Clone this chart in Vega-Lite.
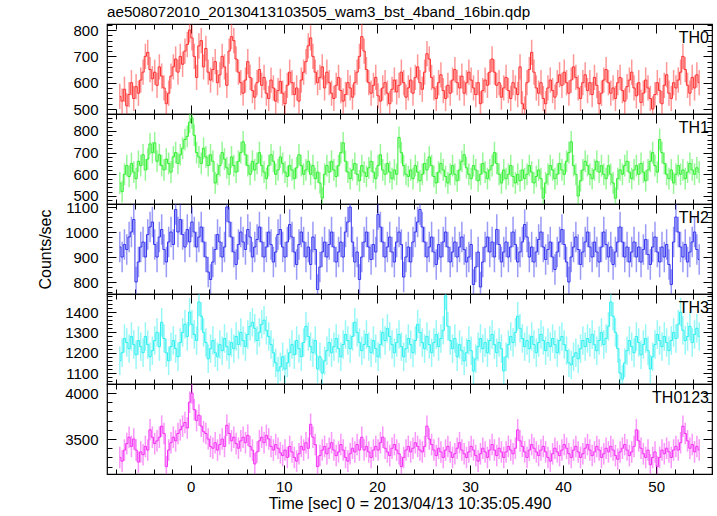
{
"$schema": "https://vega.github.io/schema/vega-lite/v6.json",
"autosize": {"type": "pad"},
"padding": {"left": 37, "top": 3, "right": 5, "bottom": 5},
"background": "white",
"bounds": "flush",
"spacing": 0,
"config": {
  "view": {"stroke": "#000", "strokeWidth": 1.2},
  "font": "Liberation Sans",
  "axis": {"labelFont": "Liberation Sans", "labelFontSize": 15, "labelColor": "#000", "titleFont": "Liberation Sans", "titleFontSize": 16, "titleFontWeight": "normal", "titleColor": "#000", "tickColor": "#000", "tickWidth": 1, "grid": false, "domain": false, "labelOverlap": false, "labelFlush": false}
},
"datasets": {
"errs": [{"band":"a","err":48},{"band":"b","err":50},{"band":"c","err":61},{"band":"d","err":70},{"band":"e","err":117}],
"lc": [
{"t":-7.625,"a":548,"b":560,"c":940,"d":1160,"e":3300},
{"t":-7.375,"a":530,"b":520,"c":900,"d":1200,"e":3260},
{"t":-7.125,"a":575,"b":600,"c":950,"d":1270,"e":3380},
{"t":-6.875,"a":512,"b":640,"c":930,"d":1250,"e":3450},
{"t":-6.625,"a":555,"b":590,"c":980,"d":1220,"e":3520},
{"t":-6.375,"a":600,"b":650,"c":1000,"d":1280,"e":3420},
{"t":-6.125,"a":540,"b":610,"c":1050,"d":1240,"e":3500},
{"t":-5.875,"a":585,"b":580,"c":800,"d":1190,"e":3380},
{"t":-5.625,"a":560,"b":660,"c":880,"d":1260,"e":3250},
{"t":-5.375,"a":610,"b":640,"c":940,"d":1230,"e":3360},
{"t":-5.125,"a":640,"b":690,"c":960,"d":1200,"e":3330},
{"t":-4.875,"a":700,"b":620,"c":900,"d":1280,"e":3420},
{"t":-4.625,"a":715,"b":670,"c":990,"d":1240,"e":3380},
{"t":-4.375,"a":650,"b":740,"c":1020,"d":1180,"e":3600},
{"t":-4.125,"a":615,"b":700,"c":1040,"d":1210,"e":3520},
{"t":-3.875,"a":640,"b":745,"c":950,"d":1260,"e":3450},
{"t":-3.625,"a":590,"b":660,"c":900,"d":1300,"e":3480},
{"t":-3.375,"a":660,"b":690,"c":980,"d":1230,"e":3520},
{"t":-3.125,"a":625,"b":640,"c":1010,"d":1350,"e":3640},
{"t":-2.875,"a":580,"b":620,"c":930,"d":1270,"e":3560},
{"t":-2.625,"a":520,"b":670,"c":880,"d":1200,"e":3200},
{"t":-2.375,"a":560,"b":650,"c":960,"d":1160,"e":3380},
{"t":-2.125,"a":625,"b":610,"c":1000,"d":1230,"e":3460},
{"t":-1.875,"a":660,"b":680,"c":950,"d":1260,"e":3520},
{"t":-1.625,"a":690,"b":700,"c":1090,"d":1220,"e":3480},
{"t":-1.375,"a":640,"b":650,"c":1000,"d":1180,"e":3560},
{"t":-1.125,"a":700,"b":690,"c":1050,"d":1250,"e":3600},
{"t":-0.875,"a":670,"b":720,"c":990,"d":1300,"e":3640},
{"t":-0.625,"a":720,"b":760,"c":940,"d":1340,"e":3680},
{"t":-0.375,"a":745,"b":775,"c":1010,"d":1280,"e":3620},
{"t":-0.125,"a":800,"b":840,"c":960,"d":1400,"e":3900},
{"t":0.125,"a":770,"b":860,"c":1040,"d":1340,"e":4000},
{"t":0.375,"a":700,"b":780,"c":1000,"d":1290,"e":3820},
{"t":0.625,"a":620,"b":700,"c":940,"d":1260,"e":3700},
{"t":0.875,"a":740,"b":680,"c":980,"d":1450,"e":3760},
{"t":1.125,"a":760,"b":650,"c":1020,"d":1380,"e":3640},
{"t":1.375,"a":660,"b":720,"c":960,"d":1300,"e":3580},
{"t":1.625,"a":730,"b":680,"c":900,"d":1250,"e":3560},
{"t":1.875,"a":640,"b":640,"c":840,"d":1170,"e":3500},
{"t":2.125,"a":610,"b":690,"c":810,"d":1220,"e":3420},
{"t":2.375,"a":650,"b":660,"c":880,"d":1260,"e":3400},
{"t":2.625,"a":680,"b":560,"c":930,"d":1200,"e":3460},
{"t":2.875,"a":600,"b":600,"c":990,"d":1180,"e":3380},
{"t":3.125,"a":630,"b":640,"c":960,"d":1240,"e":3440},
{"t":3.375,"a":700,"b":700,"c":900,"d":1210,"e":3500},
{"t":3.625,"a":660,"b":670,"c":940,"d":1270,"e":3420},
{"t":3.875,"a":590,"b":630,"c":1100,"d":1230,"e":3650},
{"t":4.125,"a":720,"b":600,"c":1040,"d":1190,"e":3560},
{"t":4.375,"a":775,"b":680,"c":980,"d":1250,"e":3480},
{"t":4.625,"a":760,"b":640,"c":920,"d":1220,"e":3520},
{"t":4.875,"a":690,"b":610,"c":870,"d":1280,"e":3450},
{"t":5.125,"a":640,"b":660,"c":950,"d":1240,"e":3400},
{"t":5.375,"a":600,"b":700,"c":1000,"d":1300,"e":3480},
{"t":5.625,"a":560,"b":750,"c":960,"d":1260,"e":3520},
{"t":5.875,"a":610,"b":690,"c":930,"d":1230,"e":3460},
{"t":6.125,"a":680,"b":640,"c":1010,"d":1290,"e":3540},
{"t":6.375,"a":620,"b":600,"c":980,"d":1330,"e":3420},
{"t":6.625,"a":570,"b":660,"c":900,"d":1350,"e":3380},
{"t":6.875,"a":545,"b":620,"c":940,"d":1320,"e":3230},
{"t":7.125,"a":600,"b":650,"c":970,"d":1260,"e":3360},
{"t":7.375,"a":650,"b":700,"c":1020,"d":1300,"e":3480},
{"t":7.625,"a":590,"b":640,"c":960,"d":1340,"e":3520},
{"t":7.875,"a":620,"b":610,"c":900,"d":1360,"e":3460},
{"t":8.125,"a":560,"b":580,"c":940,"d":1310,"e":3540},
{"t":8.375,"a":540,"b":640,"c":1000,"d":1280,"e":3500},
{"t":8.625,"a":610,"b":690,"c":950,"d":1240,"e":3420},
{"t":8.875,"a":580,"b":660,"c":880,"d":1200,"e":3380},
{"t":9.125,"a":530,"b":600,"c":920,"d":1150,"e":3440},
{"t":9.375,"a":570,"b":620,"c":990,"d":1110,"e":3400},
{"t":9.625,"a":605,"b":680,"c":1010,"d":1130,"e":3350},
{"t":9.875,"a":560,"b":650,"c":940,"d":1180,"e":3320},
{"t":10.125,"a":520,"b":610,"c":900,"d":1120,"e":3380},
{"t":10.375,"a":590,"b":590,"c":960,"d":1150,"e":3300},
{"t":10.625,"a":640,"b":640,"c":1030,"d":1200,"e":3420},
{"t":10.875,"a":600,"b":620,"c":980,"d":1240,"e":3360},
{"t":11.125,"a":555,"b":580,"c":920,"d":1190,"e":3300},
{"t":11.375,"a":580,"b":630,"c":870,"d":1260,"e":3260},
{"t":11.625,"a":530,"b":690,"c":950,"d":1220,"e":3340},
{"t":11.875,"a":610,"b":640,"c":1000,"d":1180,"e":3420},
{"t":12.125,"a":640,"b":600,"c":960,"d":1250,"e":3380},
{"t":12.375,"a":680,"b":620,"c":900,"d":1330,"e":3460},
{"t":12.625,"a":740,"b":660,"c":940,"d":1280,"e":3400},
{"t":12.875,"a":770,"b":600,"c":870,"d":1230,"e":3660},
{"t":13.125,"a":700,"b":640,"c":980,"d":1200,"e":3520},
{"t":13.375,"a":640,"b":580,"c":930,"d":1260,"e":3440},
{"t":13.625,"a":600,"b":610,"c":770,"d":1120,"e":3200},
{"t":13.875,"a":620,"b":560,"c":860,"d":1180,"e":3320},
{"t":14.125,"a":660,"b":490,"c":920,"d":1100,"e":3380},
{"t":14.375,"a":580,"b":600,"c":960,"d":1160,"e":3420},
{"t":14.625,"a":640,"b":640,"c":900,"d":1210,"e":3340},
{"t":14.875,"a":600,"b":610,"c":950,"d":1250,"e":3400},
{"t":15.125,"a":560,"b":660,"c":1000,"d":1200,"e":3460},
{"t":15.375,"a":540,"b":620,"c":940,"d":1230,"e":3380},
{"t":15.625,"a":590,"b":590,"c":880,"d":1270,"e":3320},
{"t":15.875,"a":620,"b":640,"c":920,"d":1220,"e":3360},
{"t":16.125,"a":570,"b":700,"c":960,"d":1180,"e":3440},
{"t":16.375,"a":530,"b":745,"c":900,"d":1240,"e":3380},
{"t":16.625,"a":555,"b":660,"c":1000,"d":1290,"e":3300},
{"t":16.875,"a":600,"b":610,"c":1040,"d":1260,"e":3260},
{"t":17.125,"a":580,"b":580,"c":1100,"d":1220,"e":3340},
{"t":17.375,"a":545,"b":620,"c":960,"d":1280,"e":3400},
{"t":17.625,"a":600,"b":650,"c":880,"d":1350,"e":3360},
{"t":17.875,"a":640,"b":600,"c":920,"d":1300,"e":3440},
{"t":18.125,"a":700,"b":570,"c":810,"d":1250,"e":3380},
{"t":18.375,"a":775,"b":640,"c":900,"d":1210,"e":3520},
{"t":18.625,"a":720,"b":610,"c":960,"d":1240,"e":3380},
{"t":18.875,"a":650,"b":590,"c":1000,"d":1290,"e":3420},
{"t":19.125,"a":600,"b":630,"c":940,"d":1230,"e":3360},
{"t":19.375,"a":560,"b":660,"c":890,"d":1200,"e":3300},
{"t":19.625,"a":590,"b":610,"c":950,"d":1260,"e":3380},
{"t":19.875,"a":620,"b":580,"c":920,"d":1220,"e":3420},
{"t":20.125,"a":550,"b":640,"c":1070,"d":1180,"e":3380},
{"t":20.375,"a":530,"b":690,"c":1020,"d":1240,"e":3460},
{"t":20.625,"a":580,"b":620,"c":960,"d":1300,"e":3520},
{"t":20.875,"a":600,"b":600,"c":900,"d":1260,"e":3400},
{"t":21.125,"a":560,"b":650,"c":940,"d":1320,"e":3360},
{"t":21.375,"a":520,"b":610,"c":980,"d":1280,"e":3320},
{"t":21.625,"a":575,"b":580,"c":920,"d":1240,"e":3400},
{"t":21.875,"a":610,"b":620,"c":880,"d":1200,"e":3440},
{"t":22.125,"a":565,"b":600,"c":960,"d":1250,"e":3380},
{"t":22.375,"a":590,"b":770,"c":1000,"d":1290,"e":3340},
{"t":22.625,"a":640,"b":700,"c":950,"d":1230,"e":3200},
{"t":22.875,"a":600,"b":640,"c":820,"d":1180,"e":3300},
{"t":23.125,"a":545,"b":600,"c":900,"d":1220,"e":3380},
{"t":23.375,"a":580,"b":590,"c":940,"d":1270,"e":3420},
{"t":23.625,"a":610,"b":620,"c":880,"d":1240,"e":3360},
{"t":23.875,"a":560,"b":580,"c":960,"d":1200,"e":3400},
{"t":24.125,"a":620,"b":640,"c":1000,"d":1260,"e":3460},
{"t":24.375,"a":660,"b":610,"c":1040,"d":1340,"e":3420},
{"t":24.625,"a":600,"b":570,"c":1090,"d":1300,"e":3380},
{"t":24.875,"a":575,"b":600,"c":1020,"d":1250,"e":3360},
{"t":25.125,"a":640,"b":650,"c":960,"d":1220,"e":3420},
{"t":25.375,"a":710,"b":620,"c":900,"d":1280,"e":3640},
{"t":25.625,"a":690,"b":680,"c":940,"d":1240,"e":3500},
{"t":25.875,"a":620,"b":640,"c":980,"d":1200,"e":3440},
{"t":26.125,"a":580,"b":590,"c":920,"d":1250,"e":3380},
{"t":26.375,"a":540,"b":560,"c":870,"d":1290,"e":3320},
{"t":26.625,"a":600,"b":610,"c":950,"d":1230,"e":3400},
{"t":26.875,"a":630,"b":650,"c":900,"d":1270,"e":3360},
{"t":27.125,"a":570,"b":620,"c":960,"d":1310,"e":3300},
{"t":27.375,"a":540,"b":590,"c":1000,"d":1480,"e":3380},
{"t":27.625,"a":590,"b":560,"c":940,"d":1330,"e":3420},
{"t":27.875,"a":560,"b":600,"c":880,"d":1260,"e":3360},
{"t":28.125,"a":610,"b":640,"c":920,"d":1220,"e":3300},
{"t":28.375,"a":650,"b":600,"c":960,"d":1270,"e":3340},
{"t":28.625,"a":600,"b":570,"c":900,"d":1180,"e":3400},
{"t":28.875,"a":580,"b":620,"c":940,"d":1240,"e":3460},
{"t":29.125,"a":625,"b":660,"c":980,"d":1210,"e":3380},
{"t":29.375,"a":560,"b":690,"c":930,"d":1160,"e":3340},
{"t":29.625,"a":600,"b":630,"c":880,"d":1200,"e":3300},
{"t":29.875,"a":640,"b":600,"c":900,"d":1260,"e":3360},
{"t":30.125,"a":610,"b":580,"c":950,"d":1210,"e":3420},
{"t":30.375,"a":580,"b":640,"c":790,"d":1110,"e":3380},
{"t":30.625,"a":555,"b":620,"c":860,"d":1170,"e":3320},
{"t":30.875,"a":600,"b":570,"c":920,"d":1230,"e":3260},
{"t":31.125,"a":520,"b":600,"c":780,"d":1270,"e":3340},
{"t":31.375,"a":570,"b":650,"c":880,"d":1220,"e":3400},
{"t":31.625,"a":610,"b":610,"c":940,"d":1250,"e":3360},
{"t":31.875,"a":590,"b":580,"c":980,"d":1200,"e":3300},
{"t":32.125,"a":640,"b":620,"c":920,"d":1260,"e":3380},
{"t":32.375,"a":690,"b":640,"c":960,"d":1290,"e":3440},
{"t":32.625,"a":640,"b":700,"c":900,"d":1240,"e":3380},
{"t":32.875,"a":590,"b":650,"c":1010,"d":1200,"e":3320},
{"t":33.125,"a":600,"b":600,"c":950,"d":1250,"e":3400},
{"t":33.375,"a":545,"b":560,"c":880,"d":1220,"e":3360},
{"t":33.625,"a":580,"b":620,"c":920,"d":1110,"e":3300},
{"t":33.875,"a":620,"b":580,"c":960,"d":1180,"e":3360},
{"t":34.125,"a":570,"b":600,"c":900,"d":1240,"e":3420},
{"t":34.375,"a":540,"b":640,"c":940,"d":1280,"e":3380},
{"t":34.625,"a":600,"b":590,"c":1000,"d":1250,"e":3340},
{"t":34.875,"a":580,"b":560,"c":950,"d":1300,"e":3400},
{"t":35.125,"a":555,"b":600,"c":880,"d":1380,"e":3600},
{"t":35.375,"a":660,"b":570,"c":920,"d":1320,"e":3480},
{"t":35.625,"a":520,"b":620,"c":960,"d":1270,"e":3420},
{"t":35.875,"a":500,"b":580,"c":1030,"d":1230,"e":3360},
{"t":36.125,"a":600,"b":600,"c":980,"d":1260,"e":3300},
{"t":36.375,"a":650,"b":640,"c":900,"d":1220,"e":3380},
{"t":36.625,"a":715,"b":610,"c":940,"d":1280,"e":3440},
{"t":36.875,"a":640,"b":560,"c":880,"d":1240,"e":3400},
{"t":37.125,"a":580,"b":590,"c":920,"d":1200,"e":3360},
{"t":37.375,"a":560,"b":620,"c":970,"d":1250,"e":3320},
{"t":37.625,"a":600,"b":580,"c":1000,"d":1290,"e":3380},
{"t":37.875,"a":540,"b":490,"c":940,"d":1260,"e":3420},
{"t":38.125,"a":520,"b":560,"c":890,"d":1210,"e":3360},
{"t":38.375,"a":580,"b":600,"c":930,"d":1250,"e":3300},
{"t":38.625,"a":610,"b":640,"c":960,"d":1230,"e":3260},
{"t":38.875,"a":570,"b":620,"c":900,"d":1270,"e":3340},
{"t":39.125,"a":545,"b":580,"c":850,"d":1240,"e":3400},
{"t":39.375,"a":600,"b":600,"c":920,"d":1200,"e":3360},
{"t":39.625,"a":630,"b":650,"c":960,"d":1260,"e":3320},
{"t":39.875,"a":590,"b":620,"c":1010,"d":1280,"e":3380},
{"t":40.125,"a":640,"b":600,"c":950,"d":1240,"e":3440},
{"t":40.375,"a":600,"b":660,"c":880,"d":1210,"e":3400},
{"t":40.625,"a":560,"b":700,"c":800,"d":1150,"e":3340},
{"t":40.875,"a":610,"b":750,"c":900,"d":1140,"e":3300},
{"t":41.125,"a":660,"b":640,"c":940,"d":1180,"e":3380},
{"t":41.375,"a":620,"b":600,"c":980,"d":1200,"e":3420},
{"t":41.625,"a":580,"b":500,"c":930,"d":1170,"e":3360},
{"t":41.875,"a":540,"b":570,"c":870,"d":1220,"e":3300},
{"t":42.125,"a":600,"b":620,"c":920,"d":1260,"e":3340},
{"t":42.375,"a":630,"b":660,"c":960,"d":1230,"e":3400},
{"t":42.625,"a":570,"b":640,"c":1000,"d":1270,"e":3440},
{"t":42.875,"a":600,"b":600,"c":940,"d":1250,"e":3380},
{"t":43.125,"a":555,"b":580,"c":900,"d":1290,"e":3320},
{"t":43.375,"a":620,"b":620,"c":960,"d":1240,"e":3360},
{"t":43.625,"a":590,"b":660,"c":920,"d":1210,"e":3420},
{"t":43.875,"a":520,"b":610,"c":880,"d":1260,"e":3380},
{"t":44.125,"a":560,"b":640,"c":940,"d":1300,"e":3300},
{"t":44.375,"a":610,"b":600,"c":1000,"d":1240,"e":3340},
{"t":44.625,"a":650,"b":580,"c":950,"d":1270,"e":3400},
{"t":44.875,"a":600,"b":640,"c":900,"d":1330,"e":3360},
{"t":45.125,"a":560,"b":600,"c":940,"d":1450,"e":3420},
{"t":45.375,"a":580,"b":560,"c":870,"d":1380,"e":3380},
{"t":45.625,"a":540,"b":490,"c":920,"d":1300,"e":3320},
{"t":45.875,"a":600,"b":580,"c":960,"d":1220,"e":3280},
{"t":46.125,"a":620,"b":620,"c":1020,"d":1100,"e":3360},
{"t":46.375,"a":570,"b":600,"c":960,"d":1070,"e":3400},
{"t":46.625,"a":530,"b":640,"c":900,"d":1150,"e":3440},
{"t":46.875,"a":585,"b":660,"c":940,"d":1210,"e":3380},
{"t":47.125,"a":610,"b":610,"c":880,"d":1260,"e":3320},
{"t":47.375,"a":640,"b":580,"c":920,"d":1230,"e":3360},
{"t":47.625,"a":580,"b":620,"c":960,"d":1200,"e":3420},
{"t":47.875,"a":550,"b":640,"c":900,"d":1280,"e":3600},
{"t":48.125,"a":600,"b":600,"c":940,"d":1250,"e":3480},
{"t":48.375,"a":525,"b":650,"c":880,"d":1190,"e":3400},
{"t":48.625,"a":560,"b":610,"c":930,"d":1240,"e":3340},
{"t":48.875,"a":610,"b":570,"c":970,"d":1270,"e":3300},
{"t":49.125,"a":580,"b":620,"c":910,"d":1210,"e":3380},
{"t":49.375,"a":540,"b":660,"c":870,"d":1120,"e":3220},
{"t":49.625,"a":500,"b":700,"c":940,"d":1180,"e":3300},
{"t":49.875,"a":555,"b":640,"c":980,"d":1240,"e":3360},
{"t":50.125,"a":600,"b":610,"c":920,"d":1290,"e":3200},
{"t":50.375,"a":570,"b":760,"c":880,"d":1260,"e":3300},
{"t":50.625,"a":520,"b":700,"c":940,"d":1230,"e":3380},
{"t":50.875,"a":590,"b":650,"c":900,"d":1280,"e":3340},
{"t":51.125,"a":630,"b":600,"c":950,"d":1250,"e":3400},
{"t":51.375,"a":560,"b":580,"c":870,"d":1210,"e":3360},
{"t":51.625,"a":540,"b":620,"c":790,"d":1260,"e":3300},
{"t":51.875,"a":600,"b":560,"c":960,"d":1300,"e":3380},
{"t":52.125,"a":580,"b":600,"c":1060,"d":1270,"e":3420},
{"t":52.375,"a":610,"b":640,"c":1000,"d":1340,"e":3380},
{"t":52.625,"a":640,"b":600,"c":940,"d":1400,"e":3460},
{"t":52.875,"a":700,"b":620,"c":900,"d":1310,"e":3640},
{"t":53.125,"a":650,"b":580,"c":950,"d":1260,"e":3560},
{"t":53.375,"a":590,"b":610,"c":880,"d":1280,"e":3480},
{"t":53.625,"a":560,"b":650,"c":920,"d":1330,"e":3400},
{"t":53.875,"a":620,"b":620,"c":960,"d":1250,"e":3440},
{"t":54.125,"a":580,"b":600,"c":1000,"d":1290,"e":3360},
{"t":54.375,"a":630,"b":630,"c":930,"d":1320,"e":3420},
{"t":54.625,"a":600,"b":610,"c":890,"d":1280,"e":3380}
]
},
"vconcat": [
{
 "width": 605, "height": 90,
 "title": {"text": "ae508072010_20130413103505_wam3_bst_4band_16bin.qdp", "anchor": "start", "frame": "group", "fontSize": 15.2, "fontWeight": "normal", "font": "Liberation Sans", "color": "#000", "offset": -2},
 "layer": [
  {"data": {"name": "lc"},
   "transform": [{"fold": ["a"], "as": ["band", "v"]}, {"lookup": "band", "from": {"data": {"name": "errs"}, "key": "band", "fields": ["err"]}}],
   "mark": {"type": "errorbar", "color": "#ff3030", "opacity": 0.5, "thickness": 1.5, "clip": true},
   "encoding": {
     "x": {"field": "t", "type": "quantitative", "scale": {"domain": [-9, 56], "nice": false, "zero": false}, "axis": {"orient": "bottom", "values": [-8,-6,-4,-2,0,2,4,6,8,10,12,14,16,18,20,22,24,26,28,30,32,34,36,38,40,42,44,46,48,50,52,54,56], "labels": false, "title": null, "tickSize": {"condition": {"test": "datum.value % 10 === 0", "value": -9}, "value": -5}}},
     "y": {"field": "v", "type": "quantitative", "scale": {"domain": [481, 823], "nice": false, "zero": false}, "axis": {"orient": "left", "values": [500,520,540,560,580,600,620,640,660,680,700,720,740,760,780,800,820], "format": "d", "labelExpr": "datum.value % 100 === 0 ? datum.label : ''", "labelPadding": 18, "title": null, "tickSize": {"condition": {"test": "datum.value % 100 === 0", "value": -9}, "value": -5}}},
     "yError": {"field": "err"}}},
  {"data": {"name": "lc"},
   "mark": {"type": "line", "interpolate": "step", "color": "#ff3030", "strokeWidth": 1, "clip": true},
   "encoding": {
     "x": {"field": "t", "type": "quantitative", "scale": {"domain": [-9, 56], "nice": false, "zero": false}, "axis": {"orient": "top", "values": [-8,-6,-4,-2,0,2,4,6,8,10,12,14,16,18,20,22,24,26,28,30,32,34,36,38,40,42,44,46,48,50,52,54,56], "labels": false, "title": null, "tickSize": {"condition": {"test": "datum.value % 10 === 0", "value": -9}, "value": -5}}},
     "y": {"field": "a", "type": "quantitative", "scale": {"domain": [481, 823], "nice": false, "zero": false}, "axis": {"orient": "right", "values": [500,520,540,560,580,600,620,640,660,680,700,720,740,760,780,800,820], "labels": false, "title": null, "tickSize": {"condition": {"test": "datum.value % 100 === 0", "value": -9}, "value": -5}}}}},
  {"data": {"values": [{"lab": "TH0"}]},
   "mark": {"type": "text", "align": "right", "baseline": "top", "dx": -3, "dy": 6, "fontSize": 16, "font": "Liberation Sans", "color": "#000"},
   "encoding": {"x": {"datum": 56, "type": "quantitative", "scale": {"domain": [-9, 56], "nice": false, "zero": false}, "axis": null}, "y": {"datum": 823, "type": "quantitative", "scale": {"domain": [481, 823], "nice": false, "zero": false}, "axis": null}, "text": {"field": "lab"}}}
 ],
 "resolve": {"axis": {"x": "independent", "y": "independent"}}
},
{
 "width": 605, "height": 90,
 "layer": [
  {"data": {"name": "lc"},
   "transform": [{"fold": ["b"], "as": ["band", "v"]}, {"lookup": "band", "from": {"data": {"name": "errs"}, "key": "band", "fields": ["err"]}}],
   "mark": {"type": "errorbar", "color": "#30f030", "opacity": 0.5, "thickness": 1.5, "clip": true},
   "encoding": {
     "x": {"field": "t", "type": "quantitative", "scale": {"domain": [-9, 56], "nice": false, "zero": false}, "axis": {"orient": "bottom", "values": [-8,-6,-4,-2,0,2,4,6,8,10,12,14,16,18,20,22,24,26,28,30,32,34,36,38,40,42,44,46,48,50,52,54,56], "labels": false, "title": null, "tickSize": {"condition": {"test": "datum.value % 10 === 0", "value": -9}, "value": -5}}},
     "y": {"field": "v", "type": "quantitative", "scale": {"domain": [463, 878], "nice": false, "zero": false}, "axis": {"orient": "left", "values": [480,500,520,540,560,580,600,620,640,660,680,700,720,740,760,780,800,820,840,860], "format": "d", "labelExpr": "datum.value % 100 === 0 ? datum.label : ''", "labelPadding": 18, "title": null, "tickSize": {"condition": {"test": "datum.value % 100 === 0", "value": -9}, "value": -5}}},
     "yError": {"field": "err"}}},
  {"data": {"name": "lc"},
   "mark": {"type": "line", "interpolate": "step", "color": "#30f030", "strokeWidth": 1, "clip": true},
   "encoding": {
     "x": {"field": "t", "type": "quantitative", "scale": {"domain": [-9, 56], "nice": false, "zero": false}, "axis": {"orient": "top", "values": [-8,-6,-4,-2,0,2,4,6,8,10,12,14,16,18,20,22,24,26,28,30,32,34,36,38,40,42,44,46,48,50,52,54,56], "labels": false, "title": null, "tickSize": {"condition": {"test": "datum.value % 10 === 0", "value": -9}, "value": -5}}},
     "y": {"field": "b", "type": "quantitative", "scale": {"domain": [463, 878], "nice": false, "zero": false}, "axis": {"orient": "right", "values": [480,500,520,540,560,580,600,620,640,660,680,700,720,740,760,780,800,820,840,860], "labels": false, "title": null, "tickSize": {"condition": {"test": "datum.value % 100 === 0", "value": -9}, "value": -5}}}}},
  {"data": {"values": [{"lab": "TH1"}]},
   "mark": {"type": "text", "align": "right", "baseline": "top", "dx": -3, "dy": 6, "fontSize": 16, "font": "Liberation Sans", "color": "#000"},
   "encoding": {"x": {"datum": 56, "type": "quantitative", "scale": {"domain": [-9, 56], "nice": false, "zero": false}, "axis": null}, "y": {"datum": 878, "type": "quantitative", "scale": {"domain": [463, 878], "nice": false, "zero": false}, "axis": null}, "text": {"field": "lab"}}}
 ],
 "resolve": {"axis": {"x": "independent", "y": "independent"}}
},
{
 "width": 605, "height": 90,
 "layer": [
  {"data": {"name": "lc"},
   "transform": [{"fold": ["c"], "as": ["band", "v"]}, {"lookup": "band", "from": {"data": {"name": "errs"}, "key": "band", "fields": ["err"]}}],
   "mark": {"type": "errorbar", "color": "#3535f0", "opacity": 0.5, "thickness": 1.5, "clip": true},
   "encoding": {
     "x": {"field": "t", "type": "quantitative", "scale": {"domain": [-9, 56], "nice": false, "zero": false}, "axis": {"orient": "bottom", "values": [-8,-6,-4,-2,0,2,4,6,8,10,12,14,16,18,20,22,24,26,28,30,32,34,36,38,40,42,44,46,48,50,52,54,56], "labels": false, "title": null, "tickSize": {"condition": {"test": "datum.value % 10 === 0", "value": -9}, "value": -5}}},
     "y": {"field": "v", "type": "quantitative", "scale": {"domain": [752, 1112], "nice": false, "zero": false}, "axis": {"orient": "left", "values": [760,780,800,820,840,860,880,900,920,940,960,980,1000,1020,1040,1060,1080,1100], "format": "d", "labelExpr": "datum.value % 100 === 0 ? datum.label : ''", "labelPadding": 18, "title": "Counts/sec", "titlePadding": 11, "tickSize": {"condition": {"test": "datum.value % 100 === 0", "value": -9}, "value": -5}}},
     "yError": {"field": "err"}}},
  {"data": {"name": "lc"},
   "mark": {"type": "line", "interpolate": "step", "color": "#3535f0", "strokeWidth": 1, "clip": true},
   "encoding": {
     "x": {"field": "t", "type": "quantitative", "scale": {"domain": [-9, 56], "nice": false, "zero": false}, "axis": {"orient": "top", "values": [-8,-6,-4,-2,0,2,4,6,8,10,12,14,16,18,20,22,24,26,28,30,32,34,36,38,40,42,44,46,48,50,52,54,56], "labels": false, "title": null, "tickSize": {"condition": {"test": "datum.value % 10 === 0", "value": -9}, "value": -5}}},
     "y": {"field": "c", "type": "quantitative", "scale": {"domain": [752, 1112], "nice": false, "zero": false}, "axis": {"orient": "right", "values": [760,780,800,820,840,860,880,900,920,940,960,980,1000,1020,1040,1060,1080,1100], "labels": false, "title": null, "tickSize": {"condition": {"test": "datum.value % 100 === 0", "value": -9}, "value": -5}}}}},
  {"data": {"values": [{"lab": "TH2"}]},
   "mark": {"type": "text", "align": "right", "baseline": "top", "dx": -3, "dy": 6, "fontSize": 16, "font": "Liberation Sans", "color": "#000"},
   "encoding": {"x": {"datum": 56, "type": "quantitative", "scale": {"domain": [-9, 56], "nice": false, "zero": false}, "axis": null}, "y": {"datum": 1112, "type": "quantitative", "scale": {"domain": [752, 1112], "nice": false, "zero": false}, "axis": null}, "text": {"field": "lab"}}}
 ],
 "resolve": {"axis": {"x": "independent", "y": "independent"}}
},
{
 "width": 605, "height": 90,
 "layer": [
  {"data": {"name": "lc"},
   "transform": [{"fold": ["d"], "as": ["band", "v"]}, {"lookup": "band", "from": {"data": {"name": "errs"}, "key": "band", "fields": ["err"]}}],
   "mark": {"type": "errorbar", "color": "#30f0f0", "opacity": 0.5, "thickness": 1.5, "clip": true},
   "encoding": {
     "x": {"field": "t", "type": "quantitative", "scale": {"domain": [-9, 56], "nice": false, "zero": false}, "axis": {"orient": "bottom", "values": [-8,-6,-4,-2,0,2,4,6,8,10,12,14,16,18,20,22,24,26,28,30,32,34,36,38,40,42,44,46,48,50,52,54,56], "labels": false, "title": null, "tickSize": {"condition": {"test": "datum.value % 10 === 0", "value": -9}, "value": -5}}},
     "y": {"field": "v", "type": "quantitative", "scale": {"domain": [1046, 1489], "nice": false, "zero": false}, "axis": {"orient": "left", "values": [1060,1080,1100,1120,1140,1160,1180,1200,1220,1240,1260,1280,1300,1320,1340,1360,1380,1400,1420,1440,1460,1480], "format": "d", "labelExpr": "datum.value % 100 === 0 ? datum.label : ''", "labelPadding": 18, "title": null, "tickSize": {"condition": {"test": "datum.value % 100 === 0", "value": -9}, "value": -5}}},
     "yError": {"field": "err"}}},
  {"data": {"name": "lc"},
   "mark": {"type": "line", "interpolate": "step", "color": "#30f0f0", "strokeWidth": 1, "clip": true},
   "encoding": {
     "x": {"field": "t", "type": "quantitative", "scale": {"domain": [-9, 56], "nice": false, "zero": false}, "axis": {"orient": "top", "values": [-8,-6,-4,-2,0,2,4,6,8,10,12,14,16,18,20,22,24,26,28,30,32,34,36,38,40,42,44,46,48,50,52,54,56], "labels": false, "title": null, "tickSize": {"condition": {"test": "datum.value % 10 === 0", "value": -9}, "value": -5}}},
     "y": {"field": "d", "type": "quantitative", "scale": {"domain": [1046, 1489], "nice": false, "zero": false}, "axis": {"orient": "right", "values": [1060,1080,1100,1120,1140,1160,1180,1200,1220,1240,1260,1280,1300,1320,1340,1360,1380,1400,1420,1440,1460,1480], "labels": false, "title": null, "tickSize": {"condition": {"test": "datum.value % 100 === 0", "value": -9}, "value": -5}}}}},
  {"data": {"values": [{"lab": "TH3"}]},
   "mark": {"type": "text", "align": "right", "baseline": "top", "dx": -3, "dy": 6, "fontSize": 16, "font": "Liberation Sans", "color": "#000"},
   "encoding": {"x": {"datum": 56, "type": "quantitative", "scale": {"domain": [-9, 56], "nice": false, "zero": false}, "axis": null}, "y": {"datum": 1489, "type": "quantitative", "scale": {"domain": [1046, 1489], "nice": false, "zero": false}, "axis": null}, "text": {"field": "lab"}}}
 ],
 "resolve": {"axis": {"x": "independent", "y": "independent"}}
},
{
 "width": 605, "height": 90,
 "layer": [
  {"data": {"name": "lc"},
   "transform": [{"fold": ["e"], "as": ["band", "v"]}, {"lookup": "band", "from": {"data": {"name": "errs"}, "key": "band", "fields": ["err"]}}],
   "mark": {"type": "errorbar", "color": "#f530f5", "opacity": 0.5, "thickness": 1.5, "clip": true},
   "encoding": {
     "x": {"field": "t", "type": "quantitative", "scale": {"domain": [-9, 56], "nice": false, "zero": false}, "axis": {"orient": "bottom", "values": [-8,-6,-4,-2,0,2,4,6,8,10,12,14,16,18,20,22,24,26,28,30,32,34,36,38,40,42,44,46,48,50,52,54,56], "format": "d", "labelExpr": "datum.value % 10 === 0 ? datum.label : ''", "labelPadding": 14, "title": "Time [sec] 0 = 2013/04/13 10:35:05.490", "titlePadding": -3, "tickSize": {"condition": {"test": "datum.value % 10 === 0", "value": -9}, "value": -5}}},
     "y": {"field": "v", "type": "quantitative", "scale": {"domain": [3120, 4098], "nice": false, "zero": false}, "axis": {"orient": "left", "values": [3200,3300,3400,3500,3600,3700,3800,3900,4000], "format": "d", "labelExpr": "datum.value % 500 === 0 ? datum.label : ''", "labelPadding": 18, "title": null, "tickSize": {"condition": {"test": "datum.value % 500 === 0", "value": -9}, "value": -5}}},
     "yError": {"field": "err"}}},
  {"data": {"name": "lc"},
   "mark": {"type": "line", "interpolate": "step", "color": "#f530f5", "strokeWidth": 1, "clip": true},
   "encoding": {
     "x": {"field": "t", "type": "quantitative", "scale": {"domain": [-9, 56], "nice": false, "zero": false}, "axis": {"orient": "top", "values": [-8,-6,-4,-2,0,2,4,6,8,10,12,14,16,18,20,22,24,26,28,30,32,34,36,38,40,42,44,46,48,50,52,54,56], "labels": false, "title": null, "tickSize": {"condition": {"test": "datum.value % 10 === 0", "value": -9}, "value": -5}}},
     "y": {"field": "e", "type": "quantitative", "scale": {"domain": [3120, 4098], "nice": false, "zero": false}, "axis": {"orient": "right", "values": [3200,3300,3400,3500,3600,3700,3800,3900,4000], "labels": false, "title": null, "tickSize": {"condition": {"test": "datum.value % 500 === 0", "value": -9}, "value": -5}}}}},
  {"data": {"values": [{"lab": "TH0123"}]},
   "mark": {"type": "text", "align": "right", "baseline": "top", "dx": -3, "dy": 6, "fontSize": 16, "font": "Liberation Sans", "color": "#000"},
   "encoding": {"x": {"datum": 56, "type": "quantitative", "scale": {"domain": [-9, 56], "nice": false, "zero": false}, "axis": null}, "y": {"datum": 4098, "type": "quantitative", "scale": {"domain": [3120, 4098], "nice": false, "zero": false}, "axis": null}, "text": {"field": "lab"}}}
 ],
 "resolve": {"axis": {"x": "independent", "y": "independent"}}
}
]
}
